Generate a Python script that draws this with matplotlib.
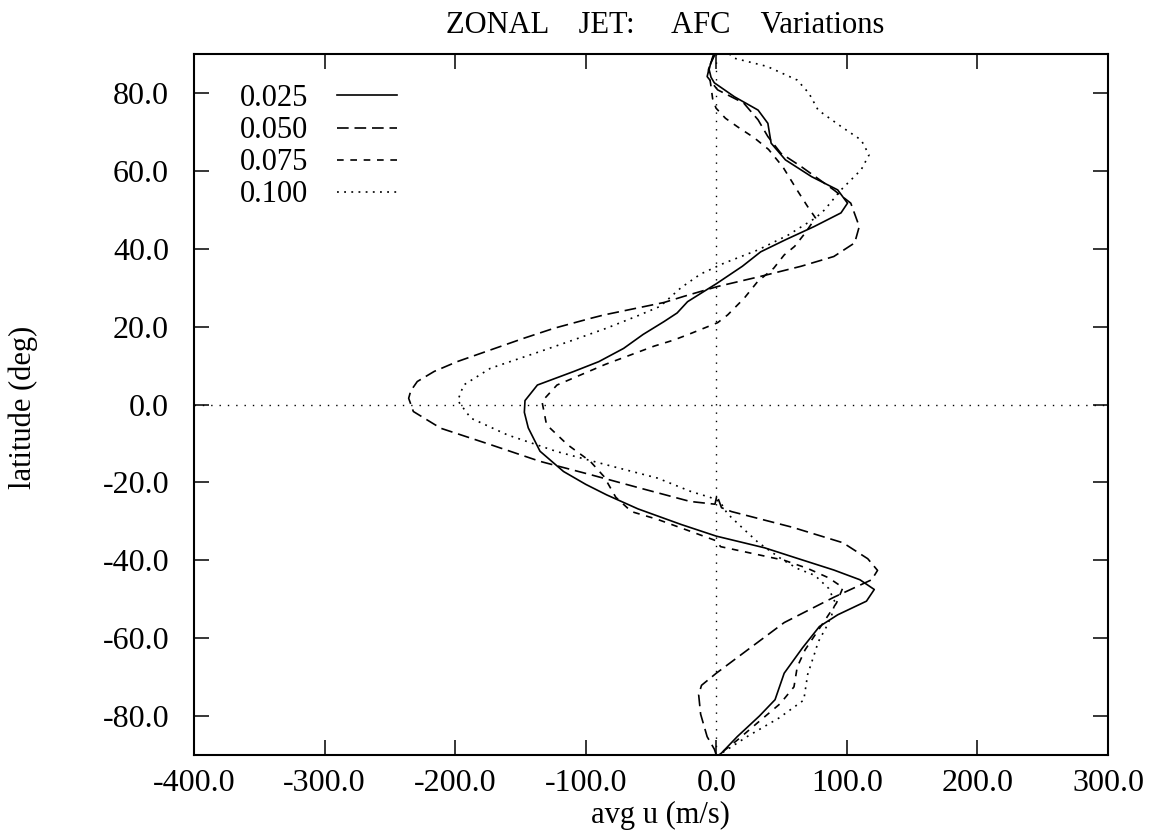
import numpy as np
import matplotlib
matplotlib.use("Agg")
import matplotlib.pyplot as plt

plt.rcParams['font.family'] = ['Liberation Serif', 'DejaVu Serif']

# curves: latitude (deg) and averaged zonal wind (m/s)
labels = ["0.025", "0.050", "0.075", "0.100"]

lat_025 = [90, 88, 86, 84, 82.6, 79, 75.6, 72.2, 67.1, 62.8, 58.5, 55.1, 51.7, 49.2,
           45.7, 42.3, 39.2, 35.5, 31, 28.5, 26.4, 23.5, 21.3, 18, 14.4, 11, 8.5, 5,
           1, -2, -6, -12, -17.2, -20.5, -23.2, -26.8, -30.8, -33.8, -36.8, -39.5, -42.5,
           -45, -47.5, -50.5, -54, -57, -62.5, -69, -75.8, -80, -85.3, -89.5, -90]
u_025 = [-1, -4, -5.5, -4, -1.5, 14, 32, 39.5, 42, 53, 73, 93, 100.5, 95.5,
         75, 53, 34, 20, 0, -12, -22, -30, -40, -56, -71, -90, -109, -137,
         -146.5, -147, -144, -135, -117, -100, -84, -60, -27, 0, 37, 62, 90,
         110, 121, 115, 93, 79, 66, 52, 45, 33, 16, 4, 2]

lat_050 = [90, 87, 84.2, 80.8, 77.4, 73.1, 68.8, 64.5, 61.1, 55.1, 51.7, 45.7, 41.5,
           38, 35.5, 32.9, 30.3, 27.8, 26.2, 23, 22.1, 19.6, 17, 14, 11, 8.5, 5.9, 3.5,
           1.6, -1.8, -6.1, -10.3, -14.6, -18, -21.5, -24.9, -25.6, -23.3, -26.5, -27.5,
           -31.5, -35.5, -39.6, -42.6, -45, -49.5, -56, -65, -69, -72.1, -74.5, -79.5,
           -85.3, -88.5, -90]
u_050 = [-1, -5, -7, 1, 21, 32, 39.5, 49.5, 65, 90, 103, 109.5, 106,
         90, 65, 34, 1, -24.5, -40, -86, -96.5, -124, -147.5, -173, -198.5, -216, -229, -234,
         -235.6, -232, -211, -173, -135, -96.5, -58, -20, -1, 0.5, 4, 11.7,
         58, 97, 116, 123.5, 119, 90, 52, 16, 0, -11.3, -13.5, -12,
         -7, -1.5, 0]

lat_075 = [90, 86, 81.6, 78.5, 76.1, 73.5, 71.3, 68.5, 65.5, 61, 55, 50.8, 47.9, 44,
           40.6, 38.4, 35, 31.5, 27.3, 23, 21, 17.9, 16.5, 15, 10.3, 5, 0.8, -5.2, -10.3,
           -14.6, -18.5, -23.8, -27.5, -29.5, -32.3, -35, -36.5, -40, -42.1, -44.5, -47,
           -51, -54.5, -58, -63, -67.4, -72.5, -76.8, -81.9, -86.2, -89.6, -90]
u_075 = [-2, -6, -4, -2.8, -0.2, 7, 16.3, 29, 40, 51, 62, 70, 76, 68,
         60, 52, 44, 31.5, 21.4, 8.7, 1, -22, -33, -47.5, -85, -122, -133.5, -130, -114,
         -96.5, -86, -77, -65, -45, -22, 0, 3.3, 52, 70, 86, 97,
         92, 85, 78, 68, 62, 59.5, 49, 31, 16, 3.3, 2]

lat_100 = [90, 88.9, 86.8, 83.3, 79.9, 75.6, 71.4, 67.9, 64.1, 60.3, 55.1, 50, 47.9,
           43.5, 39.7, 36.3, 33.5, 30, 25.2, 22.8, 19.6, 16.5, 13.6, 9.3, 5, 1,
           -3.5, -7.8, -12.1, -15.5, -18.9, -22.4, -23.8, -25, -28, -32, -35.4, -39.7,
           -42.1, -43.9, -47.2, -50.8, -54.2, -57.3, -61, -63.6, -69.3, -75.9, -80.5,
           -85.2, -89.2, -90]
u_100 = [10, 14, 39, 62, 71, 78, 95.5, 111, 117, 111, 95.5, 83, 76,
         55, 32, 6, -12, -27, -43, -60, -84, -110, -135, -173, -193.5, -198,
         -188, -160, -122, -84, -45, -19, -5, 3, 8.4, 21, 32, 50,
         62, 75.6, 86, 91, 88.3, 84, 78, 75.6, 70, 67, 48,
         24, 5.6, 3]

x_ticks = [-400, -300, -200, -100, 0, 100, 200, 300]
y_ticks = [-80, -60, -40, -20, 0, 20, 40, 60, 80]

styles = [
    dict(linestyle='-'),
    dict(linestyle=(0, (7, 3.5))),
    dict(linestyle=(0, (4, 4))),
    dict(linestyle=(0, (1.1, 3.2))),
]

fig = plt.figure(figsize=(11.51, 8.36), dpi=100)
ax = fig.add_axes([194 / 1151, 1 - 755 / 836, 914 / 1151, 701 / 836])

# dotted zero lines
ax.axhline(0, color='black', lw=1.0, linestyle=(0, (1, 5)))
ax.axvline(0, color='black', lw=1.0, linestyle=(0, (1, 5)))

series = [(u_025, lat_025), (u_050, lat_050), (u_075, lat_075), (u_100, lat_100)]
for (u, lat), lab, st in zip(series, labels, styles):
    ax.plot(u, lat, color='black', lw=1.2, label=lab, solid_joinstyle='round', **st)

ax.set_xlim(-400, 300)
ax.set_ylim(-90, 90)
ax.set_xticks(x_ticks)
ax.set_xticklabels([f"{v:.1f}" for v in x_ticks])
ax.set_yticks(y_ticks)
ax.set_yticklabels([f"{v:.1f}" for v in y_ticks])
ax.tick_params(direction='in', length=11, width=1.1, top=True, right=True,
               labelsize=23)
ax.tick_params(axis='x', pad=10)
ax.tick_params(axis='y', pad=18)
for sp in ax.spines.values():
    sp.set_linewidth(1.5)

ax.legend(loc='upper left', bbox_to_anchor=(0.05, 0.957), frameon=False,
          markerfirst=False, fontsize=22, handlelength=1.95, handletextpad=0.95,
          labelspacing=0.1, borderpad=0, borderaxespad=0)

fig.text(0.578, 1 - 33 / 836, "ZONAL    JET:     AFC    Variations", fontsize=22,
         ha='center', va='baseline')
fig.text(0.574, 1 - 823 / 836, "avg u (m/s)", fontsize=22, ha='center', va='baseline')
fig.text(0.02, 1 - 407 / 836, "latitude (deg)", fontsize=22, rotation=90,
         ha='center', va='center')

fig.savefig("out.png", dpi=100)
